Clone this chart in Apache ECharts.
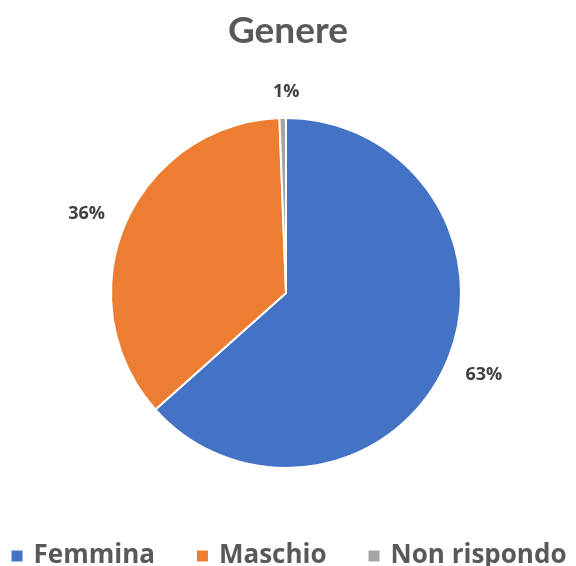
<!DOCTYPE html>
<html>
<head>
<meta charset="utf-8">
<script src="https://cdn.jsdelivr.net/npm/echarts@6/dist/echarts.min.js"></script>
<style>
html,body{margin:0;padding:0;background:#fff;}
#chart{width:576px;height:566px;}
</style>
</head>
<body>
<div id="chart"></div>
<script>
const titleText = 'Genere';
const categories = ['Femmina', 'Maschio', 'Non rispondo'];
const values = [63.4, 36.0, 0.6];
const colors = ['#4472C4', '#ED7D31', '#A5A5A5'];

const chart = echarts.init(document.getElementById('chart'));
const data = categories.map((c, i) => ({ name: c, value: values[i], itemStyle: { color: colors[i] } }));
const total = values.reduce((a, b) => a + b, 0);

chart.setOption({
  animation: false,
  title: {
    text: titleText,
    left: 'center',
    top: 8,
    textStyle: { fontFamily: 'Lato', fontWeight: 'bold', fontSize: 37, color: '#595959' }
  },
  legend: {
    data: categories,
    left: 'center',
    top: 538,
    icon: 'rect',
    itemWidth: 13,
    itemHeight: 13,
    itemGap: 40,
    textStyle: { fontFamily: 'Open Sans', fontWeight: 'bold', fontSize: 26, color: '#595959', padding: [0, 0, 0, 5] }
  },
  series: [{
    type: 'pie',
    center: [286, 293],
    radius: [0, 175],
    startAngle: 90,
    clockwise: true,
    data: data,
    itemStyle: { borderColor: '#ffffff', borderWidth: 2 },
    label: {
      show: true,
      position: 'outside',
      fontFamily: 'Open Sans',
      fontWeight: 'bold',
      fontSize: 18,
      color: '#404040',
      distanceToLabelLine: -4,
      formatter: p => Math.round(p.value / total * 100) + '%'
    },
    labelLine: { show: false, length: 26, length2: 0 },
    labelLayout: p => (p.dataIndex === 2 ? { align: 'center' } : {}),
    emphasis: { disabled: true }
  }]
});
</script>
</body>
</html>
